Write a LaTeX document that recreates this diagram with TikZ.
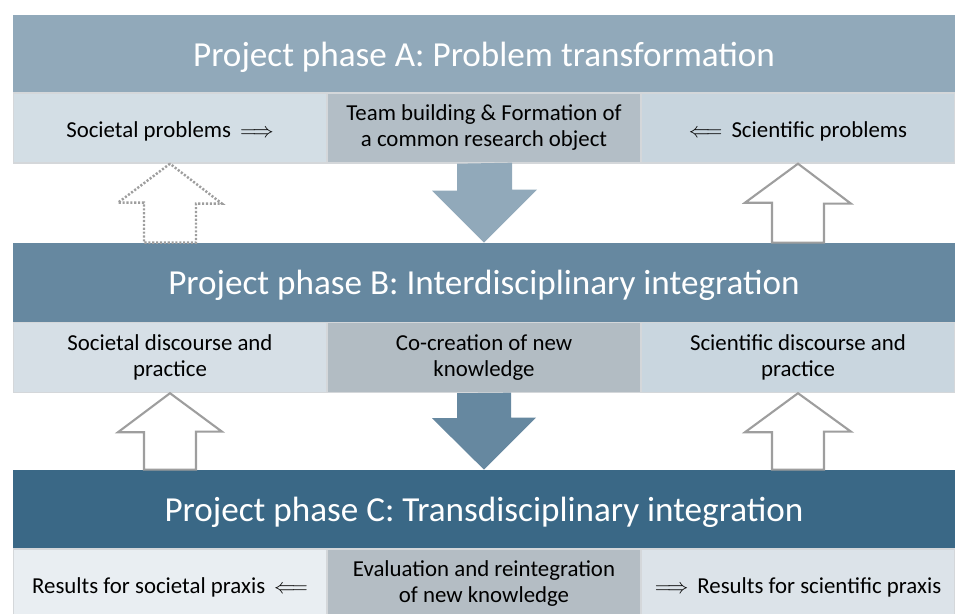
\documentclass[tikz,border=0pt]{standalone}
\usepackage{fontspec}
\setmainfont{Carlito}
\usetikzlibrary{calc}
\definecolor{phaseA}{HTML}{91A9BA}
\definecolor{phaseB}{HTML}{6688A0}
\definecolor{phaseC}{HTML}{3A6886}
\definecolor{socA}{HTML}{D3DEE5}
\definecolor{midA}{HTML}{B3BEC6}
\definecolor{sciA}{HTML}{C8D5DE}
\definecolor{socB}{HTML}{D6DFE6}
\definecolor{midB}{HTML}{B2BCC3}
\definecolor{sciB}{HTML}{C9D6DF}
\definecolor{socC}{HTML}{E9EEF2}
\definecolor{midC}{HTML}{B4BDC4}
\definecolor{sciC}{HTML}{DCE3E9}
\definecolor{cellline}{HTML}{D4D7DA}
\definecolor{arrowgrey}{HTML}{9E9E9E}
\begin{document}
\begin{tikzpicture}
  [x=0.02cm,y=-0.02cm,
   band/.style={fill=#1,text=white,minimum width=18.84cm,minimum height=1.58cm,
     inner sep=0pt,font=\fontsize{20}{24}\selectfont,
     execute at begin node={\rule{0pt}{17.5pt}}},
   cell/.style={fill=#1,draw=cellline,line width=0.8pt,minimum width=6.26cm,
     minimum height=1.4cm,inner sep=2pt,align=center,
     font=\fontsize{13}{14.8}\selectfont,
     execute at begin node={\rule{0pt}{13pt}}},
   hollow/.style={draw=arrowgrey,line width=1.2pt,fill=white},
   dotty/.style={hollow,densely dotted,line width=1.4pt}]
  \useasboundingbox (0,0) rectangle (955,613);
  \clip (0,0) rectangle (955,613);

  \node[band=phaseA] (bandA) at (484,54) {Project phase A: Problem transformation};
  \node[cell=socA] (socA) at (170,128) {Societal problems\, $\Longrightarrow$};
  \node[cell=midA] (midA) at (484,128) {Team building \& Formation of\\a common research object};
  \node[cell=sciA] (sciA) at (798,128) {$\Longleftarrow$\, Scientific problems};

  \node[band=phaseB] (bandB) at (484,282.5) {Project phase B: Interdisciplinary integration};
  \node[cell=socB] (socB) at (170,357.5) {Societal discourse and\\practice};
  \node[cell=midB] (midB) at (484,357.5) {Co-creation of new\\knowledge};
  \node[cell=sciB] (sciB) at (798,357.5) {Scientific discourse and\\practice};

  \node[band=phaseC] (bandC) at (484,509.5) {Project phase C: Transdisciplinary integration};
  \node[cell=socC] (socC) at (170,584) {Results for societal praxis\, $\Longleftarrow$};
  \node[cell=midC] (midC) at (484,584) {Evaluation and reintegration\\of new knowledge};
  \node[cell=sciC] (sciC) at (798,584) {$\Longrightarrow$\, Results for scientific praxis};

  \fill[phaseA] ($(midA.south)+(-27,0)$) -- ++(0,27) -- ++(-25,0) -- (bandB.north)
    -- ++(53,-53) -- ++(-25,0) -- ++(0,-27) -- cycle;
  \fill[phaseB] ($(midB.south)+(-27,0)$) -- ++(0,25) -- ++(-25,0) -- (bandC.north)
    -- ++(52,-52) -- ++(-25,0) -- ++(0,-25) -- cycle;

  \draw[dotty] (socA.south) -- ++(-52,39) -- ++(26,0) -- ($(socA.south |- bandB.north)+(-26,0)$)
    -- ++(52,0) -- ++(0,-39) -- ++(26,0) -- cycle;
  \draw[hollow] (sciA.south) -- ++(-53,39) -- ++(27,0) -- ($(sciA.south |- bandB.north)+(-26,0)$)
    -- ++(52,0) -- ++(0,-39) -- ++(27,0) -- cycle;
  \draw[hollow] (socB.south) -- ++(-52,39) -- ++(26,0) -- ($(socB.south |- bandC.north)+(-26,0)$)
    -- ++(52,0) -- ++(0,-38) -- ++(26,0) -- cycle;
  \draw[hollow] (sciB.south) -- ++(-53,39) -- ++(27,0) -- ($(sciB.south |- bandC.north)+(-26,0)$)
    -- ++(52,0) -- ++(0,-38) -- ++(27,0) -- cycle;

\end{tikzpicture}
\end{document}
